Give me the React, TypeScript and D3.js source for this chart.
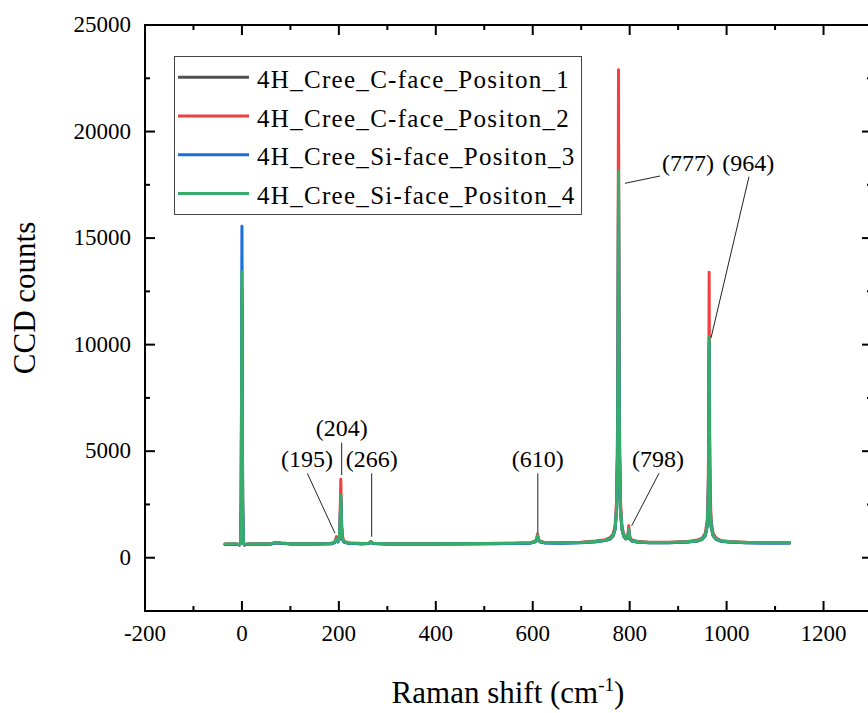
import React from 'react';
import * as d3 from 'd3';

// ---------- data ----------
const ramanShift = [
  -35, -20, -10, -5, -3, -1.5, 0, 1.5, 3, 5,
  10, 20, 40, 60, 70, 80, 100, 150, 185, 192,
  195, 198, 201, 202.5, 204, 205.5, 207, 210, 220, 250,
  262, 266, 270, 300, 400, 500, 560, 595, 605, 608,
  610, 612, 615, 625, 660, 700, 730, 750, 760, 766,
  770, 773, 775, 776, 777, 778, 779, 781, 784, 788,
  792, 795, 797, 798, 799, 801, 805, 815, 840, 880,
  920, 940, 950, 956, 960, 962, 963, 964, 965, 966,
  968, 972, 978, 988, 1005, 1040, 1080, 1130,
];

const cFacePos1 = [
  630, 635, 630, 600, 690, 2200, 12000, 2200, 690, 600,
  630, 640, 640, 650, 705, 680, 650, 645, 660, 725,
  850, 745, 870, 1500, 2700, 1400, 910, 745, 680, 655,
  670, 740, 670, 650, 650, 660, 670, 690, 745, 835,
  990, 835, 745, 700, 690, 710, 750, 805, 880, 1030,
  1320, 2200, 4700, 8900, 17000, 8900, 4700, 2200, 1320, 985,
  885, 900, 1080, 1300, 1080, 860, 785, 735, 705, 705,
  735, 785, 865, 1030, 1460, 2500, 4400, 9800, 4400, 2500,
  1460, 1030, 865, 775, 735, 705, 695, 695,
];

const cFacePos2 = [
  640, 645, 640, 600, 720, 2300, 12600, 2300, 720, 610,
  640, 650, 650, 660, 715, 690, 660, 655, 675, 760,
  990, 780, 1000, 1950, 3680, 1800, 1050, 780, 695, 665,
  680, 770, 685, 660, 660, 670, 680, 705, 770, 880,
  1120, 880, 770, 715, 705, 730, 780, 850, 950, 1120,
  1500, 2700, 6200, 11800, 22900, 11800, 6200, 2700, 1500, 1080,
  950, 980, 1200, 1500, 1200, 920, 830, 770, 730, 725,
  760, 830, 930, 1150, 1750, 3200, 5800, 13400, 5800, 3200,
  1750, 1150, 930, 810, 760, 725, 712, 710,
];

const siFacePos3 = [
  625, 630, 625, 600, 720, 2800, 15550, 2800, 720, 600,
  625, 635, 635, 645, 700, 675, 645, 640, 655, 720,
  860, 740, 880, 1550, 2850, 1450, 920, 740, 675, 650,
  665, 740, 665, 645, 645, 655, 665, 685, 745, 840,
  1000, 840, 745, 695, 685, 705, 750, 815, 900, 1060,
  1380, 2300, 4900, 9200, 17600, 9200, 4900, 2300, 1380, 1000,
  890, 900, 1090, 1320, 1090, 860, 785, 735, 705, 705,
  740, 795, 880, 1060, 1500, 2550, 4500, 10100, 4500, 2550,
  1500, 1060, 870, 775, 735, 705, 695, 695,
];

const siFacePos4 = [
  640, 645, 640, 610, 700, 2400, 13430, 2400, 700, 620,
  640, 650, 650, 660, 720, 690, 660, 655, 670, 740,
  880, 760, 900, 1600, 2930, 1500, 950, 760, 690, 665,
  680, 760, 680, 660, 660, 670, 680, 700, 760, 860,
  1040, 860, 760, 710, 700, 720, 760, 820, 900, 1050,
  1350, 2300, 5000, 9500, 18170, 9500, 5000, 2300, 1350, 1000,
  900, 920, 1120, 1380, 1120, 880, 800, 750, 720, 720,
  750, 800, 880, 1050, 1500, 2600, 4600, 10350, 4600, 2600,
  1500, 1050, 880, 790, 750, 720, 710, 710,
];

const seriesNames = [
  '4H_Cree_C-face_Positon_1',
  '4H_Cree_C-face_Positon_2',
  '4H_Cree_Si-face_Positon_3',
  '4H_Cree_Si-face_Positon_4',
];
const seriesValues = [cFacePos1, cFacePos2, siFacePos3, siFacePos4];

const xMajorTicks = [-200, 0, 200, 400, 600, 800, 1000, 1200];
const xMinorTicks = [-100, 100, 300, 500, 700, 900, 1100];
const yMajorTicks = [0, 5000, 10000, 15000, 20000, 25000];
const yMinorTicks = [-2500, 2500, 7500, 12500, 17500, 22500];

// peak labels (text anchor + leader line, in data units)
const peakLabels = ['(195)', '(204)', '(266)', '(610)', '(798)', '(777)', '(964)'];
const peakLabelPos = [
  [134.3, 4633, 134.9, 3962, 192, 1146],
  [205.8, 6111, 205.8, 5398, 205.8, 3882],
  [267.7, 4633, 267.7, 3962, 267.7, 987],
  [610.5, 4633, 610.5, 3962, 610.5, 1160],
  [858.5, 4633, 860.5, 3962, 804.2, 1503],
  [920.4, 18547, 862.6, 17914, 790.4, 17571],
  [1044.8, 18547, 1046.2, 17881, 967.8, 10311],
];

// ---------- styles ----------
const W = 868;
const H = 713;
const colors = ['#515151', '#F14040', '#1A6FDF', '#37AD6B'];
const tf = { fontFamily: 'Liberation Serif' };

export default function App() {
  const x = d3.scaleLinear().domain([-200, 1300]).range([145, 872]);
  const y = d3.scaleLinear().domain([-2500, 25000]).range([611, 25]);
  const [x0, x1] = x.range();
  const [y0, y1] = y.range();

  const line = d3
    .line<number>()
    .x((_, i) => x(ramanShift[i]))
    .y((d) => y(d));

  const major = 10;
  const minor = 5;

  return (
    <svg width={W} height={H} style={{ position: 'absolute', left: 0, top: 0, background: '#fff' }}>
      <rect x={0} y={0} width={W} height={H} fill="#fff" />

      {/* spectra */}
      <g fill="none" strokeWidth={3} strokeLinejoin="round" strokeLinecap="round">
        {seriesValues.map((vals, k) => (
          <path key={k} d={line(vals) || ''} stroke={colors[k]} />
        ))}
      </g>

      {/* peak annotations */}
      <g>
        {peakLabels.map((lab, i) => {
          const p = peakLabelPos[i];
          return (
            <g key={lab}>
              <line
                x1={x(p[2])}
                y1={y(p[3])}
                x2={x(p[4])}
                y2={y(p[5])}
                stroke="#222"
                strokeWidth={1}
              />
              <text
                x={x(p[0])}
                y={y(p[1]) + 8}
                textAnchor="middle"
                fontSize={24}
                fill="#000"
                style={tf}
              >
                {lab}
              </text>
            </g>
          );
        })}
      </g>

      {/* frame */}
      <g stroke="#000" strokeWidth={2} fill="none">
        <rect x={x0} y={y1} width={x1 - x0} height={y0 - y1} />
        {xMajorTicks.map((t) => (
          <g key={'xM' + t}>
            <line x1={x(t)} x2={x(t)} y1={y0} y2={y0 - major} />
            <line x1={x(t)} x2={x(t)} y1={y1} y2={y1 + major} />
          </g>
        ))}
        {xMinorTicks.map((t) => (
          <g key={'xm' + t}>
            <line x1={x(t)} x2={x(t)} y1={y0} y2={y0 - minor} />
            <line x1={x(t)} x2={x(t)} y1={y1} y2={y1 + minor} />
          </g>
        ))}
        {yMajorTicks.map((t) => (
          <g key={'yM' + t}>
            <line x1={x0} x2={x0 + major} y1={y(t)} y2={y(t)} />
            <line x1={x1} x2={x1 - major} y1={y(t)} y2={y(t)} />
          </g>
        ))}
        {yMinorTicks.map((t) => (
          <g key={'ym' + t}>
            <line x1={x0} x2={x0 + minor} y1={y(t)} y2={y(t)} />
            <line x1={x1} x2={x1 - minor} y1={y(t)} y2={y(t)} />
          </g>
        ))}
      </g>

      {/* tick labels */}
      <g fill="#000">
        {xMajorTicks.map((t) => (
          <text key={'xl' + t} x={x(t)} y={641} textAnchor="middle" fontSize={23} style={tf}>
            {String(t)}
          </text>
        ))}
        {yMajorTicks.map((t) => (
          <text key={'yl' + t} x={131} y={y(t) + 7} textAnchor="end" fontSize={23} style={tf}>
            {String(t)}
          </text>
        ))}
      </g>

      {/* axis titles */}
      <text
        transform="translate(35,298) rotate(-90)"
        textAnchor="middle"
        fontSize={31}
        fill="#000"
        style={tf}
      >
        CCD counts
      </text>
      <text x={508} y={703} textAnchor="middle" fontSize={31} fill="#000" style={tf}>
        Raman shift (cm
        <tspan dy={-12} fontSize={19}>
          -1
        </tspan>
        <tspan dy={12}>)</tspan>
      </text>

      {/* legend */}
      <g>
        <rect
          x={174.5}
          y={56.5}
          width={407}
          height={158}
          fill="#fff"
          stroke="#444"
          strokeWidth={1}
        />
        {seriesNames.map((name, k) => {
          const ly = 77.3 + k * 38.7;
          return (
            <g key={name}>
              <line x1={178} x2={249} y1={ly} y2={ly} stroke={colors[k]} strokeWidth={3} />
              <text
                x={257}
                y={ly + 10.5}
                fontSize={25}
                letterSpacing={1.3}
                fill="#000"
                style={tf}
              >
                {name}
              </text>
            </g>
          );
        })}
      </g>
    </svg>
  );
}
